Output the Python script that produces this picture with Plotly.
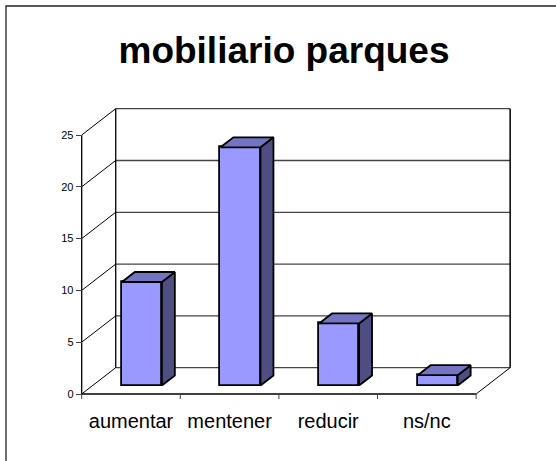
import plotly.graph_objects as go

# ---- data -------------------------------------------------------------
categories = ["aumentar", "mentener", "reducir", "ns/nc"]
values = [10, 23, 6, 1]
y_ticks = [0, 5, 10, 15, 20, 25]
title_text = "mobiliario parques"

# ---- 3-D look (oblique projection, in axis units) ---------------------
DEPTH_X = 0.345      # horizontal shift from front plane to back wall
DEPTH_Y = 2.54       # vertical shift from front plane to back wall
BAR_WIDTH = 0.406
BAR_FRONT = 0.32     # depth fraction of the bar's front face
BAR_BACK = 0.70      # depth fraction of the bar's back face
Y_TOP = max(y_ticks)

FRONT_COLOR = "#9999FF"
TOP_COLOR = "#7474C2"
SIDE_COLOR = "#4E4E82"
EDGE = "black"
FONT = "Liberation Sans, Arial, sans-serif"

W, H = 556, 461
M_L, M_R, M_T, M_B = 70, 36, 100, 61
X_RANGE = [-0.6187, 3.945]
Y_RANGE = [-0.579, 28.378]

n = len(categories)
xs = list(range(n))
x_left, x_right = -0.5, n - 0.5

fig = go.Figure()

# front faces of the bars
fig.add_trace(go.Bar(
    x=[x + BAR_FRONT * DEPTH_X for x in xs],
    y=values,
    base=BAR_FRONT * DEPTH_Y,
    width=BAR_WIDTH,
    marker=dict(color=FRONT_COLOR, line=dict(color=EDGE, width=1.8)),
    hoverinfo="skip",
    showlegend=False,
))

# top and right side faces
for x, v in zip(xs, values):
    xl, xr = x - BAR_WIDTH / 2, x + BAR_WIDTH / 2
    f0x, f0y = BAR_FRONT * DEPTH_X, BAR_FRONT * DEPTH_Y
    f1x, f1y = BAR_BACK * DEPTH_X, BAR_BACK * DEPTH_Y
    side_x = [xr + f0x, xr + f1x, xr + f1x, xr + f0x, xr + f0x]
    side_y = [f0y, f1y, v + f1y, v + f0y, f0y]
    top_x = [xl + f0x, xr + f0x, xr + f1x, xl + f1x, xl + f0x]
    top_y = [v + f0y, v + f0y, v + f1y, v + f1y, v + f0y]
    for px, py, col in ((side_x, side_y, SIDE_COLOR), (top_x, top_y, TOP_COLOR)):
        fig.add_trace(go.Scatter(
            x=px, y=py, mode="lines", fill="toself", fillcolor=col,
            line=dict(color=EDGE, width=1.8),
            hoverinfo="skip", showlegend=False,
        ))

shapes = []


def seg(x0, y0, x1, y1, color="black", width=1.0):
    shapes.append(dict(type="line", xref="x", yref="y", x0=x0, y0=y0,
                       x1=x1, y1=y1, layer="below",
                       line=dict(color=color, width=width)))


# back wall gridlines and left wall diagonals
for t in y_ticks:
    seg(x_left + DEPTH_X, t + DEPTH_Y, x_right + DEPTH_X, t + DEPTH_Y,
        color="#444444", width=1.3)
    seg(x_left, t, x_left + DEPTH_X, t + DEPTH_Y)
# back wall verticals
seg(x_left + DEPTH_X, DEPTH_Y, x_left + DEPTH_X, Y_TOP + DEPTH_Y, width=1.3)
seg(x_right + DEPTH_X, DEPTH_Y, x_right + DEPTH_X, Y_TOP + DEPTH_Y, width=1.5)
# floor: right diagonal, front edge
seg(x_right, 0, x_right + DEPTH_X, DEPTH_Y)
seg(x_left, 0, x_right, 0, width=1.3)
# front value axis
seg(x_left, 0, x_left, Y_TOP, width=1.3)
# category boundary ticks
tick_down = 5 / 10.36
for b in range(n + 1):
    seg(x_left + b, 0, x_left + b, -tick_down, color="#444", width=1)


def paper_x(px):
    return (px - M_L) / (W - M_L - M_R)


def paper_y(py):
    return (H - M_B - py) / (H - M_T - M_B)


# chart area border
shapes.append(dict(type="rect", xref="paper", yref="paper",
                   x0=paper_x(6), y0=paper_y(6), x1=paper_x(620), y1=paper_y(520),
                   line=dict(color="#222", width=1.3), layer="below"))

fig.update_layout(
    width=W, height=H,
    margin=dict(l=M_L, r=M_R, t=M_T, b=M_B, pad=0),
    paper_bgcolor="white", plot_bgcolor="white",
    bargap=0,
    shapes=shapes,
    title=dict(text=f"<b>{title_text}</b>", x=284 / W, xref="container",
               xanchor="center", y=1 - 50 / H, yref="container", yanchor="middle",
               font=dict(family=FONT, size=37, color="black")),
    xaxis=dict(range=X_RANGE, showgrid=False, zeroline=False, showline=False,
               tickvals=xs, ticktext=categories, ticks="",
               ticklabelstandoff=7,
               tickfont=dict(family=FONT, size=20, color="black"),
               fixedrange=True),
    yaxis=dict(range=Y_RANGE, showgrid=False, zeroline=False, showline=False,
               anchor="free", position=paper_x(81.7),
               tickvals=y_ticks, ticks="outside", ticklen=6, tickwidth=1,
               tickcolor="#444",
               tickfont=dict(family=FONT, size=11, color="black"),
               fixedrange=True),
)

fig.write_html("out.html")
